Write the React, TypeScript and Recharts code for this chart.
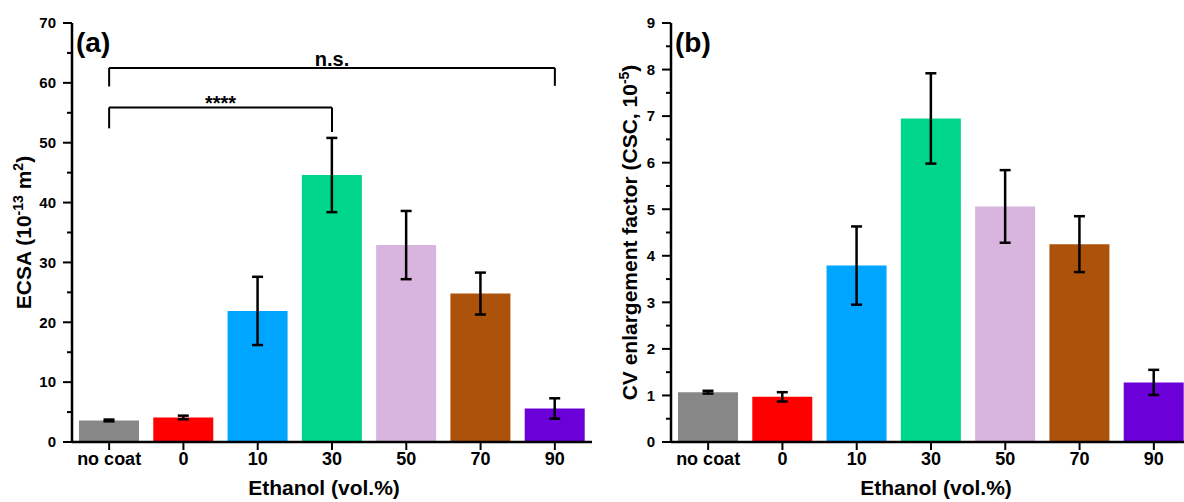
import React from 'react'
import { BarChart, Bar, XAxis, YAxis, ErrorBar, ReferenceLine, Cell } from 'recharts'

const FONT = '"Liberation Sans", Arial, sans-serif'

const categories = ['no coat', '0', '10', '30', '50', '70', '90']
const barColors = ['#878787', '#ff0000', '#00a5ff', '#00d68b', '#d8b5de', '#ad520b', '#6b00d9']

// ECSA, 10^-13 m^2
const ecsaMean = [3.6, 4.1, 21.9, 44.6, 32.9, 24.8, 5.6]
const ecsaSd = [0.15, 0.3, 5.7, 6.2, 5.7, 3.5, 1.7]

// CV enlargement factor, CSC 10^-5
const cvMean = [1.07, 0.97, 3.79, 6.95, 5.06, 4.25, 1.28]
const cvSd = [0.03, 0.1, 0.84, 0.97, 0.78, 0.6, 0.27]

const ecsaTicks = [0, 10, 20, 30, 40, 50, 60, 70]
const ecsaMinor = [5, 15, 25, 35, 45, 55, 65]
const cvTicks = [0, 1, 2, 3, 4, 5, 6, 7, 8, 9]
const cvMinor = [0.5, 1.5, 2.5, 3.5, 4.5, 5.5, 6.5, 7.5, 8.5]

const ecsaBrackets = [
  { from: 'no coat', to: '90', top: 62.5, fromEnd: 59.4, toEnd: 59.5, mark: 'n.s.', size: 20, lift: 2.3 },
  { from: 'no coat', to: '30', top: 55.9, fromEnd: 52.4, toEnd: 51.8, mark: '****', size: 20, lift: -3 },
]

const ecsaData = categories.map((name, i) => ({ name, value: ecsaMean[i], err: ecsaSd[i] }))
const cvData = categories.map((name, i) => ({ name, value: cvMean[i], err: cvSd[i] }))

const makeYTick = (major: number[]) => (props: any) => {
  const { x, y, payload } = props
  const isMajor = major.includes(payload.value)
  if (!isMajor) {
    return <line x1={x - 5} x2={x} y1={y} y2={y} stroke="#000" strokeWidth={2} />
  }
  return (
    <g>
      <line x1={x - 9} x2={x} y1={y} y2={y} stroke="#000" strokeWidth={2} />
      <text x={x - 16} y={y} dy={5.3} textAnchor="end" fontSize={15} fontWeight="bold" fontFamily={FONT} fill="#000">
        {payload.value}
      </text>
    </g>
  )
}

const XTick = (props: any) => {
  const { x, y, payload } = props
  return (
    <text x={x} y={y} dy={13} textAnchor="middle" fontSize={18} fontWeight="bold" fontFamily={FONT} fill="#000">
      {payload.value}
    </text>
  )
}

const YTitle = ({ viewBox, baseX, parts }: any) => {
  const cy = viewBox.y + viewBox.height / 2
  return (
    <text
      x={baseX}
      y={cy}
      transform={`rotate(-90 ${baseX} ${cy})`}
      textAnchor="middle"
      fontSize={21}
      fontWeight="bold"
      fontFamily={FONT}
      fill="#000"
    >
      {parts}
    </text>
  )
}

const XTitle = ({ viewBox, shift }: any) => (
  <text
    x={viewBox.x + viewBox.width / 2 + shift}
    y={viewBox.y + 53}
    textAnchor="middle"
    fontSize={21}
    fontWeight="bold"
    fontFamily={FONT}
    fill="#000"
  >
    Ethanol (vol.%)
  </text>
)

function Panel({
  data,
  max,
  ticks,
  minor,
  axisWidth,
  tag,
  title,
  titleX,
  xTitleShift,
  width,
  children,
}: any) {
  const allTicks = [...ticks, ...minor].sort((a: number, b: number) => a - b)
  return (
    <BarChart
      width={width}
      height={502}
      data={data}
      margin={{ top: 23, right: width - axisWidth - 520, bottom: 0, left: 0 }}
      barSize={60}
    >
      <XAxis
        dataKey="name"
        height={60}
        tick={<XTick />}
        tickSize={8}
        tickLine={{ stroke: '#000', strokeWidth: 2 }}
        axisLine={{ stroke: '#000', strokeWidth: 2.5 }}
        label={<XTitle shift={xTitleShift} />}
      />
      <XAxis xAxisId="top" dataKey="name" orientation="top" height={0} tick={false} tickLine={false} axisLine={{ stroke: '#000', strokeWidth: 2.5 }} />
      <YAxis
        type="number"
        domain={[0, max]}
        ticks={allTicks}
        interval={0}
        width={axisWidth}
        tickSize={0}
        tickMargin={0}
        tickLine={false}
        tick={makeYTick(ticks)}
        axisLine={{ stroke: '#000', strokeWidth: 2.5 }}
        label={<YTitle baseX={titleX} parts={title} />}
      />
      <YAxis yAxisId="right" orientation="right" domain={[0, max]} width={0} tick={false} tickLine={false} axisLine={{ stroke: '#000', strokeWidth: 2.5 }} />
      <Bar dataKey="value" isAnimationActive={false}>
        {data.map((d: any, i: number) => (
          <Cell key={d.name} fill={barColors[i]} />
        ))}
        <ErrorBar dataKey="err" width={5.5} stroke="#000" strokeWidth={2.5} />
      </Bar>
      {children}
      <text x={axisWidth + 4} y={52} fontSize={28} fontWeight="bold" fontFamily={FONT} fill="#000">
        {tag}
      </text>
    </BarChart>
  )
}

const bracketLines = (list: typeof ecsaBrackets) =>
  list.flatMap((b) => [
    <ReferenceLine
      key={b.mark + '-top'}
      segment={[{ x: b.from, y: b.top }, { x: b.to, y: b.top }]}
      stroke="#000"
      strokeWidth={2}
      label={{ value: b.mark, position: 'top', offset: b.lift, fontSize: b.size, fontWeight: 'bold', fontFamily: FONT, fill: '#000' }}
    />,
    <ReferenceLine key={b.mark + '-l'} segment={[{ x: b.from, y: b.top }, { x: b.from, y: b.fromEnd }]} stroke="#000" strokeWidth={2} />,
    <ReferenceLine key={b.mark + '-r'} segment={[{ x: b.to, y: b.top }, { x: b.to, y: b.toEnd }]} stroke="#000" strokeWidth={2} />,
  ])

export default function App() {
  return (
    <div style={{ position: 'absolute', left: 0, top: 0, width: 1184, height: 502, overflow: 'hidden', background: '#fff' }}>
      <div style={{ position: 'absolute', left: 0, top: 0 }}>
        <Panel
          data={ecsaData}
          max={70}
          ticks={ecsaTicks}
          minor={ecsaMinor}
          axisWidth={72}
          width={592}
          tag="(a)"
          titleX={31}
          xTitleShift={-8}
          title={[
            'ECSA (10',
            <tspan key="s1" fontSize={14} dy={-8}>-13</tspan>,
            <tspan key="s2" dy={8}> m</tspan>,
            <tspan key="s3" fontSize={14} dy={-8}>2</tspan>,
            <tspan key="s4" dy={8}>)</tspan>,
          ]}
        >
          {bracketLines(ecsaBrackets)}
        </Panel>
      </div>
      <div style={{ position: 'absolute', left: 592, top: 0 }}>
        <Panel
          data={cvData}
          max={9}
          ticks={cvTicks}
          minor={cvMinor}
          axisWidth={79}
          width={600}
          tag="(b)"
          titleX={45}
          xTitleShift={5}
          title={[
            'CV enlargement factor (CSC, 10',
            <tspan key="s1" fontSize={14} dy={-8}>-5</tspan>,
            <tspan key="s2" dy={8}>)</tspan>,
          ]}
        />
      </div>
    </div>
  )
}
